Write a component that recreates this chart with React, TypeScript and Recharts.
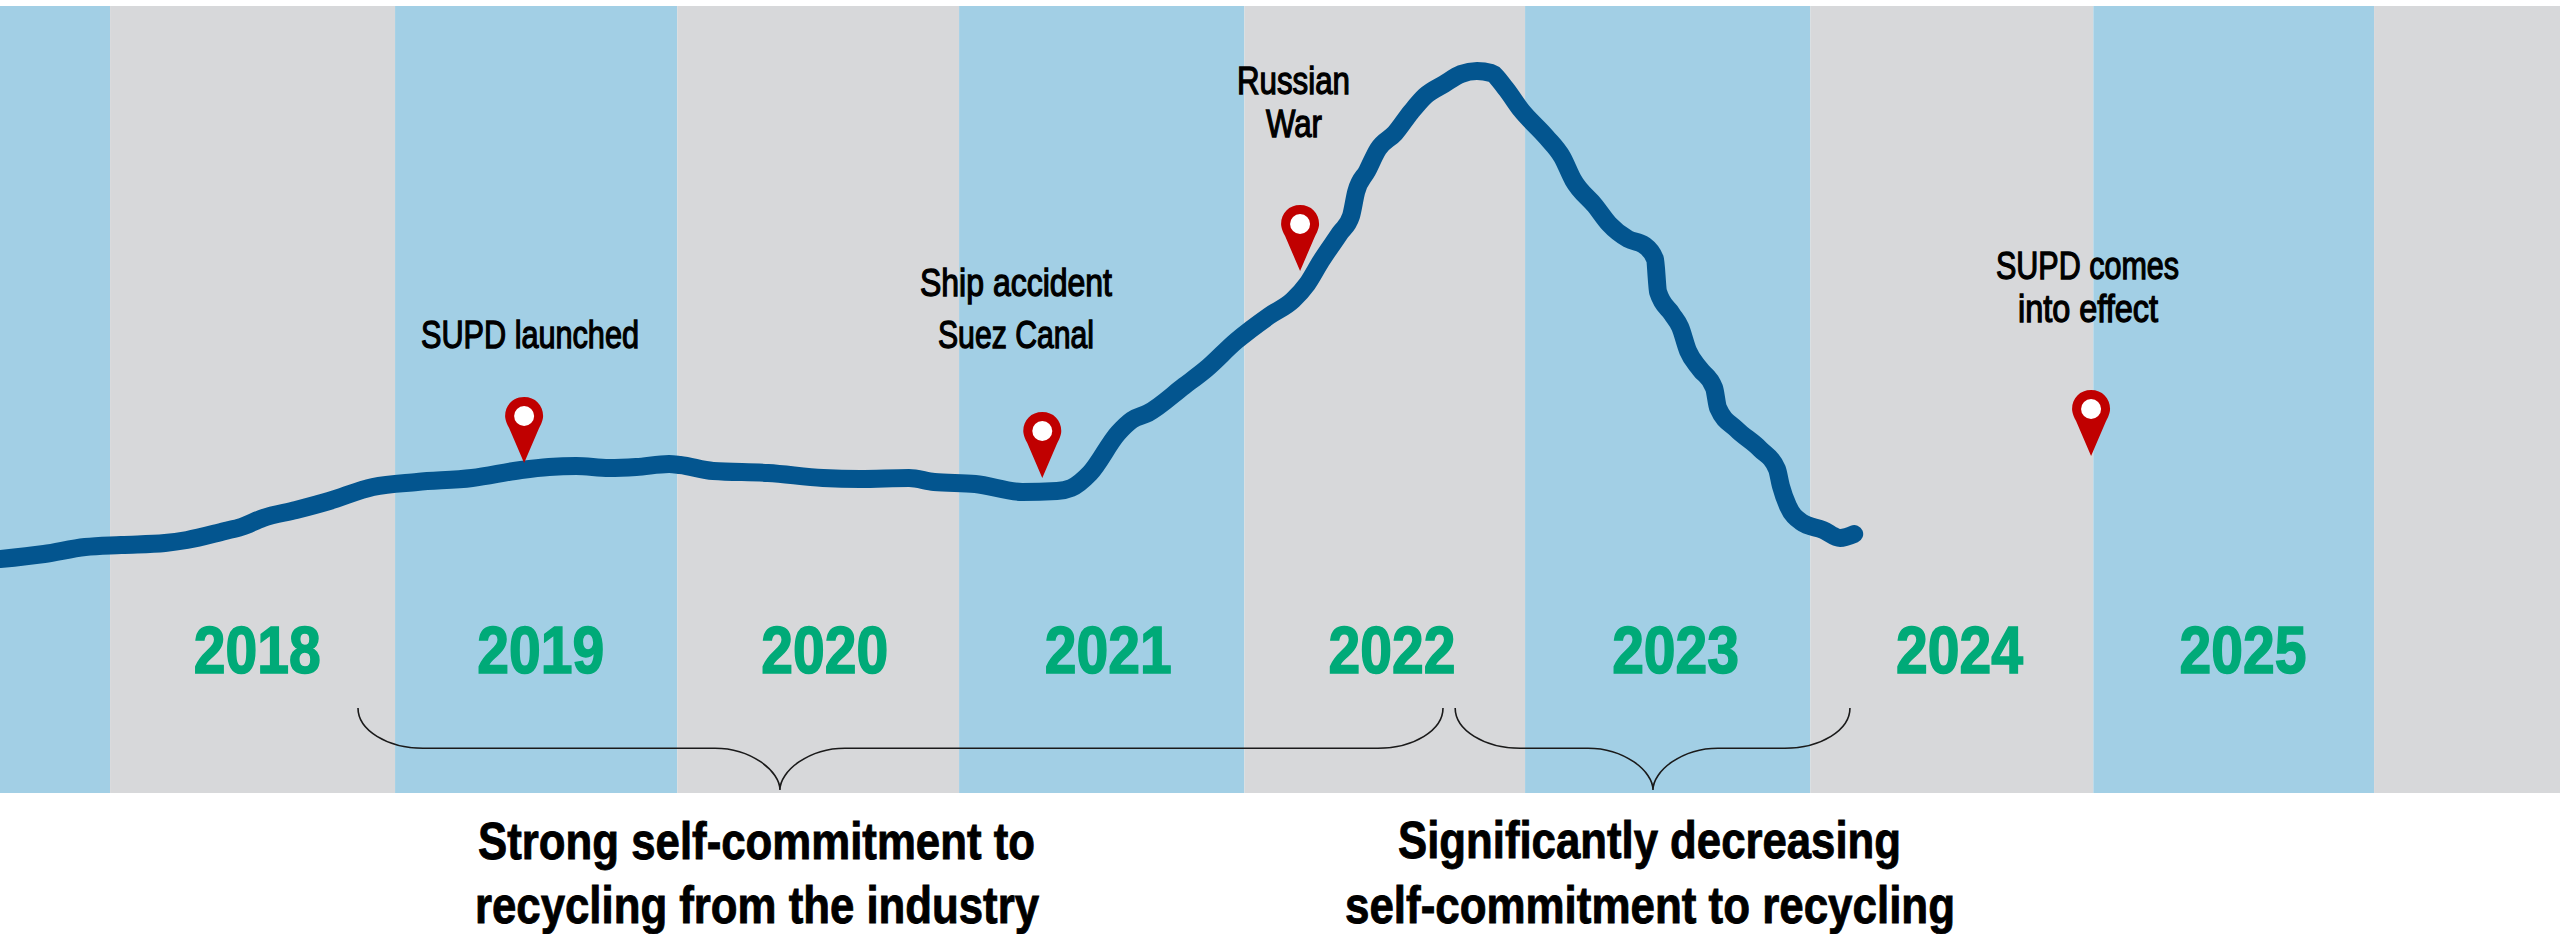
import { LineChart, Line, XAxis, YAxis, ReferenceArea, ReferenceDot } from "recharts";

// where each year label sits on the time axis
const yearTicks = [2018.52, 2019.522, 2020.525, 2021.527, 2022.53, 2023.532, 2024.535, 2025.537];

// band edges (the year columns are not perfectly even)
const bandEdges = [2017.611, 2018, 2019.007, 2020.004, 2021, 2022.008, 2023, 2024.008, 2025.008, 2026, 2026.657];

const lineYears = [
  2017.611, 2017.767, 2017.912, 2018.039, 2018.194, 2018.272, 2018.406, 2018.463, 2018.541, 2018.657,
  2018.774, 2018.929, 2019.085, 2019.279, 2019.452, 2019.551, 2019.647, 2019.763, 2019.859, 2019.975,
  2020.014, 2020.131, 2020.325, 2020.519, 2020.65, 2020.823, 2020.912, 2021.057, 2021.223, 2021.346,
  2021.396, 2021.463, 2021.562, 2021.611, 2021.668, 2021.795, 2021.873, 2021.979, 2022.095, 2022.18,
  2022.23, 2022.279, 2022.346, 2022.385, 2022.403, 2022.442, 2022.481, 2022.541, 2022.597, 2022.647,
  2022.714, 2022.774, 2022.83, 2022.88, 2022.93, 2022.986, 2023.075, 2023.131, 2023.17, 2023.248,
  2023.297, 2023.364, 2023.42, 2023.459, 2023.47, 2023.519, 2023.548, 2023.576, 2023.618, 2023.668,
  2023.682, 2023.746, 2023.83, 2023.89, 2023.904, 2023.929, 2023.976, 2024.053, 2024.113, 2024.163,
];
const lineValues = [
  234, 239, 246, 248, 250, 253, 262, 266, 275, 283,
  292, 306, 311, 315, 323, 326, 327, 325, 326, 329,
  328, 322, 320, 315, 314, 315, 311, 309, 301, 302,
  305, 320, 360, 373, 380, 407, 424, 452, 477, 493,
  509, 532, 560, 577, 601, 622, 644, 660, 681, 697,
  709, 719, 722, 720, 705, 683, 656, 636, 613, 587,
  569, 554, 548, 534, 501, 479, 466, 442, 424, 405,
  385, 364, 344, 324, 307, 287, 271, 263, 255, 259,
];

const pinYears = [2019.463, 2021.294, 2022.205, 2025.0];
const pinValues = [330, 315, 522, 337];

const braceStarts = [2018.876, 2022.753];
const braceEnds = [2022.71, 2024.148];
const braceTips = [2020.367, 2023.452];

const chartData = lineYears.map((year, i) => ({ year, value: lineValues[i] }));

const BLUE = "#a2cfe5";
const GREY = "#d7d8da";
const LINE = "#03558f";
const GREEN = "#00aa78";
const RED = "#c00000";
const FONT = "'Liberation Sans', Arial, sans-serif";

const Txt = ({ x, y, w, size, bold, children }: any) => (
  <text
    x={x}
    y={y}
    textLength={w}
    lengthAdjust="spacingAndGlyphs"
    fontFamily={FONT}
    fontSize={size}
    fontWeight={bold ? 700 : 400}
    fill="#000"
    stroke="#000"
    strokeWidth={bold ? 0.9 : 1.3}
  >
    {children}
  </text>
);

const Pin = ({ cx, cy }: any) => (
  <g>
    <path
      d={`M${cx} ${cy} L${cx - 15} ${cy - 35} C${cx - 19} ${cy - 42} ${cx - 19} ${cy - 47} ${cx - 19} ${cy - 47}
        C${cx - 19} ${cy - 58} ${cx - 11} ${cy - 66} ${cx} ${cy - 66}
        C${cx + 11} ${cy - 66} ${cx + 19} ${cy - 58} ${cx + 19} ${cy - 47}
        C${cx + 19} ${cy - 42} ${cx + 15} ${cy - 35} ${cx + 15} ${cy - 35} Z`}
      fill={RED}
    />
    <circle cx={cx} cy={cy - 47} r={10} fill="#fff" />
  </g>
);

// the captions go in with the pins, otherwise the bands cover them
const pinCaptions = [
  <Txt key="a" x={421} y={348} w={218} size={38}>SUPD launched</Txt>,
  <g key="b">
    <Txt x={920} y={296} w={192} size={38}>Ship accident</Txt>
    <Txt x={938} y={348} w={156} size={38}>Suez Canal</Txt>
  </g>,
  <g key="c">
    <Txt x={1237} y={94} w={113} size={38}>Russian</Txt>
    <Txt x={1266} y={137} w={56} size={38}>War</Txt>
  </g>,
  <g key="d">
    <Txt x={1996} y={279} w={183} size={38}>SUPD comes</Txt>
    <Txt x={2018} y={322} w={140} size={38}>into effect</Txt>
  </g>,
];

// curly brace that opens upward, tip at the bottom
const Brace = ({ x, y, width, height, tipShare }: any) => {
  const r = 65;
  const start = x;
  const end = x + width;
  const tip = start + tipShare * width;
  const mid = y + height * 0.49;
  const bot = y + height;
  return (
    <path
      d={`M${start} ${y} C${start} ${y + 22} ${start + 29} ${mid} ${start + r} ${mid}
        L${tip - r} ${mid} C${tip - 29} ${mid} ${tip} ${bot - 19} ${tip} ${bot}
        C${tip} ${bot - 19} ${tip + 29} ${mid} ${tip + r} ${mid}
        L${end - r} ${mid} C${end - 29} ${mid} ${end} ${y + 22} ${end} ${y}`}
      fill="none"
      stroke="#1a1a1a"
      strokeWidth={1.6}
    />
  );
};

const YearTick = ({ x, y, payload }: any) => (
  <text
    x={x}
    y={y - 128}
    textAnchor="middle"
    textLength={127}
    lengthAdjust="spacingAndGlyphs"
    fontFamily={FONT}
    fontSize={67}
    fontWeight={700}
    fill={GREEN}
    stroke={GREEN}
    strokeWidth={1.6}
  >
    {Math.floor(payload.value)}
  </text>
);

export default function App() {
  return (
    <div style={{ width: 2560, height: 934 }}>
      <style>{`body{margin:0;background:#fff}`}</style>
      <LineChart
        width={2560}
        height={934}
        data={chartData}
        margin={{ top: 6, right: 0, bottom: 0, left: 0 }}
      >
        <XAxis
          dataKey="year"
          type="number"
          domain={[bandEdges[0], bandEdges[bandEdges.length - 1]]}
          ticks={yearTicks}
          interval={0}
          height={141}
          axisLine={false}
          tickLine={false}
          tick={<YearTick />}
        />
        <YAxis hide domain={[0, 787]} />
        {bandEdges.slice(0, -1).map((edge, i) => (
          <ReferenceArea
            key={edge}
            x1={edge}
            x2={bandEdges[i + 1]}
            y1={0}
            y2={787}
            fill={i % 2 === 0 ? BLUE : GREY}
            fillOpacity={1}
            stroke="none"
          />
        ))}
        {braceStarts.map((start, i) => (
          <ReferenceArea
            key={start}
            x1={start}
            x2={braceEnds[i]}
            y1={3}
            y2={85}
            shape={(props: any) => (
              <Brace {...props} tipShare={(braceTips[i] - start) / (braceEnds[i] - start)} />
            )}
          />
        ))}
        <Line
          dataKey="value"
          type="monotone"
          stroke={LINE}
          strokeWidth={18}
          strokeLinecap="round"
          strokeLinejoin="round"
          dot={false}
          isAnimationActive={false}
        />
        {pinYears.map((year, i) => (
          <ReferenceDot
            key={year}
            x={year}
            y={pinValues[i]}
            shape={(props: any) => (
              <g>
                <Pin {...props} />
                {pinCaptions[i]}
              </g>
            )}
          />
        ))}

        <Txt x={478} y={859} w={557} size={52} bold>Strong self-commitment to</Txt>
        <Txt x={475} y={923} w={564} size={52} bold>recycling from the industry</Txt>
        <Txt x={1398} y={858} w={503} size={52} bold>Significantly decreasing</Txt>
        <Txt x={1345} y={923} w={610} size={52} bold>self-commitment to recycling</Txt>
      </LineChart>
    </div>
  );
}
